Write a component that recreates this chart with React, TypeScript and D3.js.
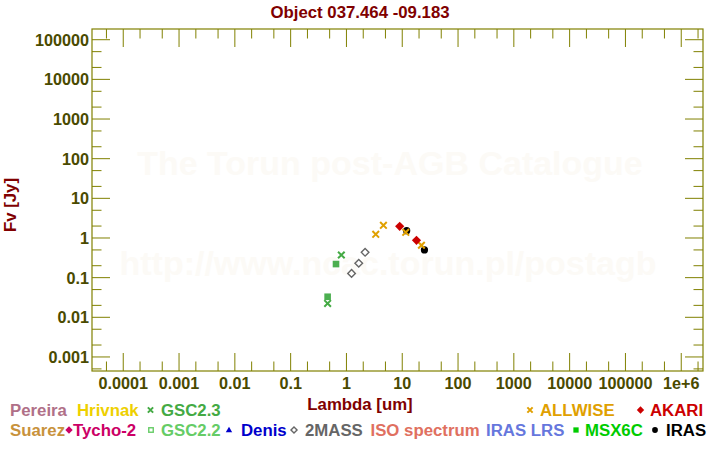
import React from 'react';
import * as d3 from 'd3';

// ---- data (wavelength in um, flux in Jy) ----
const gsc23Lambda = [0.46, 0.81];
const gsc23Flux = [0.0224, 0.372];
const gsc22Lambda = [0.46, 0.65];
const gsc22Flux = [0.033, 0.22];
const twomassLambda = [1.235, 1.662, 2.159];
const twomassFlux = [0.128, 0.23, 0.435];
const irasLambda = [12, 25];
const irasFlux = [1.53, 0.5];
const allwiseLambda = [3.35, 4.6, 11.56, 22.09];
const allwiseFlux = [1.24, 2.09, 1.39, 0.655];
const akariLambda = [9, 18];
const akariFlux = [1.97, 0.875];

const xTickLabels = ['0.0001', '0.001', '0.01', '0.1', '1', '10', '100', '1000', '10000', '100000', '1e+6'];
const xTickValues = [1e-4, 1e-3, 1e-2, 1e-1, 1, 10, 100, 1000, 1e4, 1e5, 1e6];
const yTickLabels = ['0.001', '0.01', '0.1', '1', '10', '100', '1000', '10000', '100000'];
const yTickValues = [1e-3, 1e-2, 1e-1, 1, 10, 100, 1000, 1e4, 1e5];

const legendRow1 = [
  { label: 'Pereira', color: '#b07088', marker: '' },
  { label: 'Hrivnak', color: '#eed000', marker: '' },
  { label: 'GSC2.3', color: '#44aa44', marker: 'x' },
  { label: 'ALLWISE', color: '#e0a000', marker: 'x' },
  { label: 'AKARI', color: '#cc0000', marker: 'diamond' },
];
const legendRow1X = [[0, 10], [0, 77], [150.5, 161], [530, 540], [640.5, 650]];
const legendRow2 = [
  { label: 'Suarez', color: '#c8923c', marker: '' },
  { label: 'Tycho-2', color: '#cc0066', marker: 'diamond' },
  { label: 'GSC2.2', color: '#66cc66', marker: 'square-open' },
  { label: 'Denis', color: '#0000cc', marker: 'triangle' },
  { label: '2MASS', color: '#666666', marker: 'diamond-open' },
  { label: 'ISO spectrum', color: '#e07060', marker: '' },
  { label: 'IRAS LRS', color: '#6677dd', marker: '' },
  { label: 'MSX6C', color: '#00cc00', marker: 'square' },
  { label: 'IRAS', color: '#000000', marker: 'circle' },
];
const legendRow2X = [[0, 10], [69, 73], [151, 161], [229, 241], [294, 305], [0, 370.5], [0, 486], [576, 585], [655, 666]];

const FONT = '"Liberation Sans", Arial, Helvetica, sans-serif';
const AXIS = '#808000';
const TICKTXT = '#4a4a00';
const DARKRED = '#800000';

const plot = { left: 92, right: 703, top: 29, bottom: 371 };

function Marker({ type, x, y, color, s = 1 }: { type: string; x: number; y: number; color: string; s?: number }) {
  if (type === 'x') {
    const r = 3.3 * s;
    return (
      <path d={`M${x - r},${y - r}L${x + r},${y + r}M${x - r},${y + r}L${x + r},${y - r}`} stroke={color} strokeWidth={2} fill="none" />
    );
  }
  if (type === 'diamond') {
    const r = 4.6 * s;
    return <path d={`M${x},${y - r}L${x + r},${y}L${x},${y + r}L${x - r},${y}Z`} fill={color} />;
  }
  if (type === 'diamond-open') {
    const r = 3.8 * s;
    return <path d={`M${x},${y - r}L${x + r},${y}L${x},${y + r}L${x - r},${y}Z`} fill="none" stroke={color} strokeWidth={1.4} />;
  }
  if (type === 'square') {
    const r = 3.3 * s;
    return <rect x={x - r} y={y - r} width={2 * r} height={2 * r} fill={color} />;
  }
  if (type === 'square-open') {
    const r = 2.8 * s;
    return <rect x={x - r} y={y - r} width={2 * r} height={2 * r} fill="none" stroke={color} strokeWidth={1.4} />;
  }
  if (type === 'triangle') {
    const r = 4 * s;
    return <path d={`M${x},${y - r}L${x + r},${y + r * 0.7}L${x - r},${y + r * 0.7}Z`} fill={color} />;
  }
  if (type === 'circle') {
    return <circle cx={x} cy={y} r={3.6 * s} fill={color} />;
  }
  return null;
}

export default function App() {
  const x = d3.scaleLog().domain([Math.pow(10, -4.56), Math.pow(10, 6.39)]).range([plot.left, plot.right]);
  const y = d3.scaleLog().domain([Math.pow(10, -3.354), Math.pow(10, 5.27)]).range([plot.bottom, plot.top]);

  const xMinor: number[] = [];
  for (let k = -5; k <= 6; k++) {
    for (const m of [2, 5]) {
      const v = m * Math.pow(10, k);
      const px = x(v);
      if (px > plot.left + 0.5 && px < plot.right - 0.5) xMinor.push(v);
    }
  }
  const yMinor: number[] = [];
  for (let k = -4; k <= 5; k++) {
    for (const m of [2, 5]) {
      const v = m * Math.pow(10, k);
      const py = y(v);
      if (py > plot.top + 0.5 && py < plot.bottom - 0.5) yMinor.push(v);
    }
  }
  const MAJ = 18;
  const MIN = 9.5;

  const series = [
    { lam: gsc23Lambda, flux: gsc23Flux, type: 'x', color: '#44aa44' },
    { lam: gsc22Lambda, flux: gsc22Flux, type: 'square', color: '#4caf50' },
    { lam: twomassLambda, flux: twomassFlux, type: 'diamond-open', color: '#666666' },
    { lam: irasLambda, flux: irasFlux, type: 'circle', color: '#000000' },
    { lam: allwiseLambda, flux: allwiseFlux, type: 'x', color: '#e0a000' },
    { lam: akariLambda, flux: akariFlux, type: 'diamond', color: '#cc0000' },
  ];

  const LF = 16.8;

  return (
    <svg width={720} height={450} style={{ position: 'absolute', left: 0, top: 0, background: '#fff' }} fontFamily={FONT}>
      <rect x={0} y={0} width={720} height={450} fill="#fff" />
      {/* watermark */}
      <text x={390} y={175} textAnchor="middle" fontSize={34} fontWeight="bold" fill="#fcfaf6">The Torun post-AGB Catalogue</text>
      <text x={388} y={275} textAnchor="middle" fontSize={34} fontWeight="bold" fill="#fcfaf6">http://www.ncac.torun.pl/postagb</text>

      {/* title */}
      <text x={360} y={18} textAnchor="middle" fontSize={LF} fontWeight="bold" fill={DARKRED}>Object 037.464 -09.183</text>

      {/* ticks */}
      <g stroke={AXIS} strokeWidth={1}>
        {xTickValues.map((v, i) => (
          <g key={'xm' + i}>
            <line x1={x(v)} x2={x(v)} y1={plot.bottom} y2={plot.bottom - MAJ} />
            <line x1={x(v)} x2={x(v)} y1={plot.top} y2={plot.top + MAJ} />
          </g>
        ))}
        {xMinor.map((v, i) => (
          <g key={'xn' + i}>
            <line x1={x(v)} x2={x(v)} y1={plot.bottom} y2={plot.bottom - MIN} />
            <line x1={x(v)} x2={x(v)} y1={plot.top} y2={plot.top + MIN} />
          </g>
        ))}
        {yTickValues.map((v, i) => (
          <g key={'ym' + i}>
            <line x1={plot.left} x2={plot.left + MAJ} y1={y(v)} y2={y(v)} />
            <line x1={plot.right} x2={plot.right - MAJ} y1={y(v)} y2={y(v)} />
          </g>
        ))}
        {yMinor.map((v, i) => (
          <g key={'yn' + i}>
            <line x1={plot.left} x2={plot.left + MIN} y1={y(v)} y2={y(v)} />
            <line x1={plot.right} x2={plot.right - MIN} y1={y(v)} y2={y(v)} />
          </g>
        ))}
      </g>
      <rect x={plot.left} y={plot.top} width={plot.right - plot.left} height={plot.bottom - plot.top} fill="none" stroke={AXIS} strokeWidth={1.2} />

      {/* tick labels */}
      {xTickValues.map((v, i) => (
        <text key={'xl' + i} x={x(v)} y={389} textAnchor="middle" fontSize={16.2} fontWeight="bold" fill={TICKTXT}>{xTickLabels[i]}</text>
      ))}
      {yTickValues.map((v, i) => (
        <text key={'yl' + i} x={89} y={y(v) + 6} textAnchor="end" fontSize={16.2} fontWeight="bold" fill={TICKTXT}>{yTickLabels[i]}</text>
      ))}

      {/* axis titles */}
      <text x={360} y={410} textAnchor="middle" fontSize={LF} fontWeight="bold" fill={DARKRED}>Lambda [um]</text>
      <text transform="translate(16,205) rotate(-90)" textAnchor="middle" fontSize={LF} fontWeight="bold" fill={DARKRED}>Fv [Jy]</text>

      {/* data */}
      <g>
        {series.map((s, si) =>
          s.lam.map((l, i) => (
            <Marker key={si + '-' + i} type={s.type} x={x(l)} y={y(s.flux[i])} color={s.color} />
          ))
        )}
      </g>

      {/* legend */}
      {legendRow1.map((e, i) => (
        <g key={'l1' + i}>
          {e.marker && <Marker type={e.marker} x={legendRow1X[i][0]} y={410} color={e.color} s={0.8} />}
          <text x={legendRow1X[i][1]} y={416} fontSize={LF} fontWeight="bold" fill={e.color}>{e.label}</text>
        </g>
      ))}
      {legendRow2.map((e, i) => (
        <g key={'l2' + i}>
          {e.marker && <Marker type={e.marker} x={legendRow2X[i][0]} y={430} color={e.color} s={0.8} />}
          <text x={legendRow2X[i][1]} y={436} fontSize={LF} fontWeight="bold" fill={e.color}>{e.label}</text>
        </g>
      ))}
    </svg>
  );
}
